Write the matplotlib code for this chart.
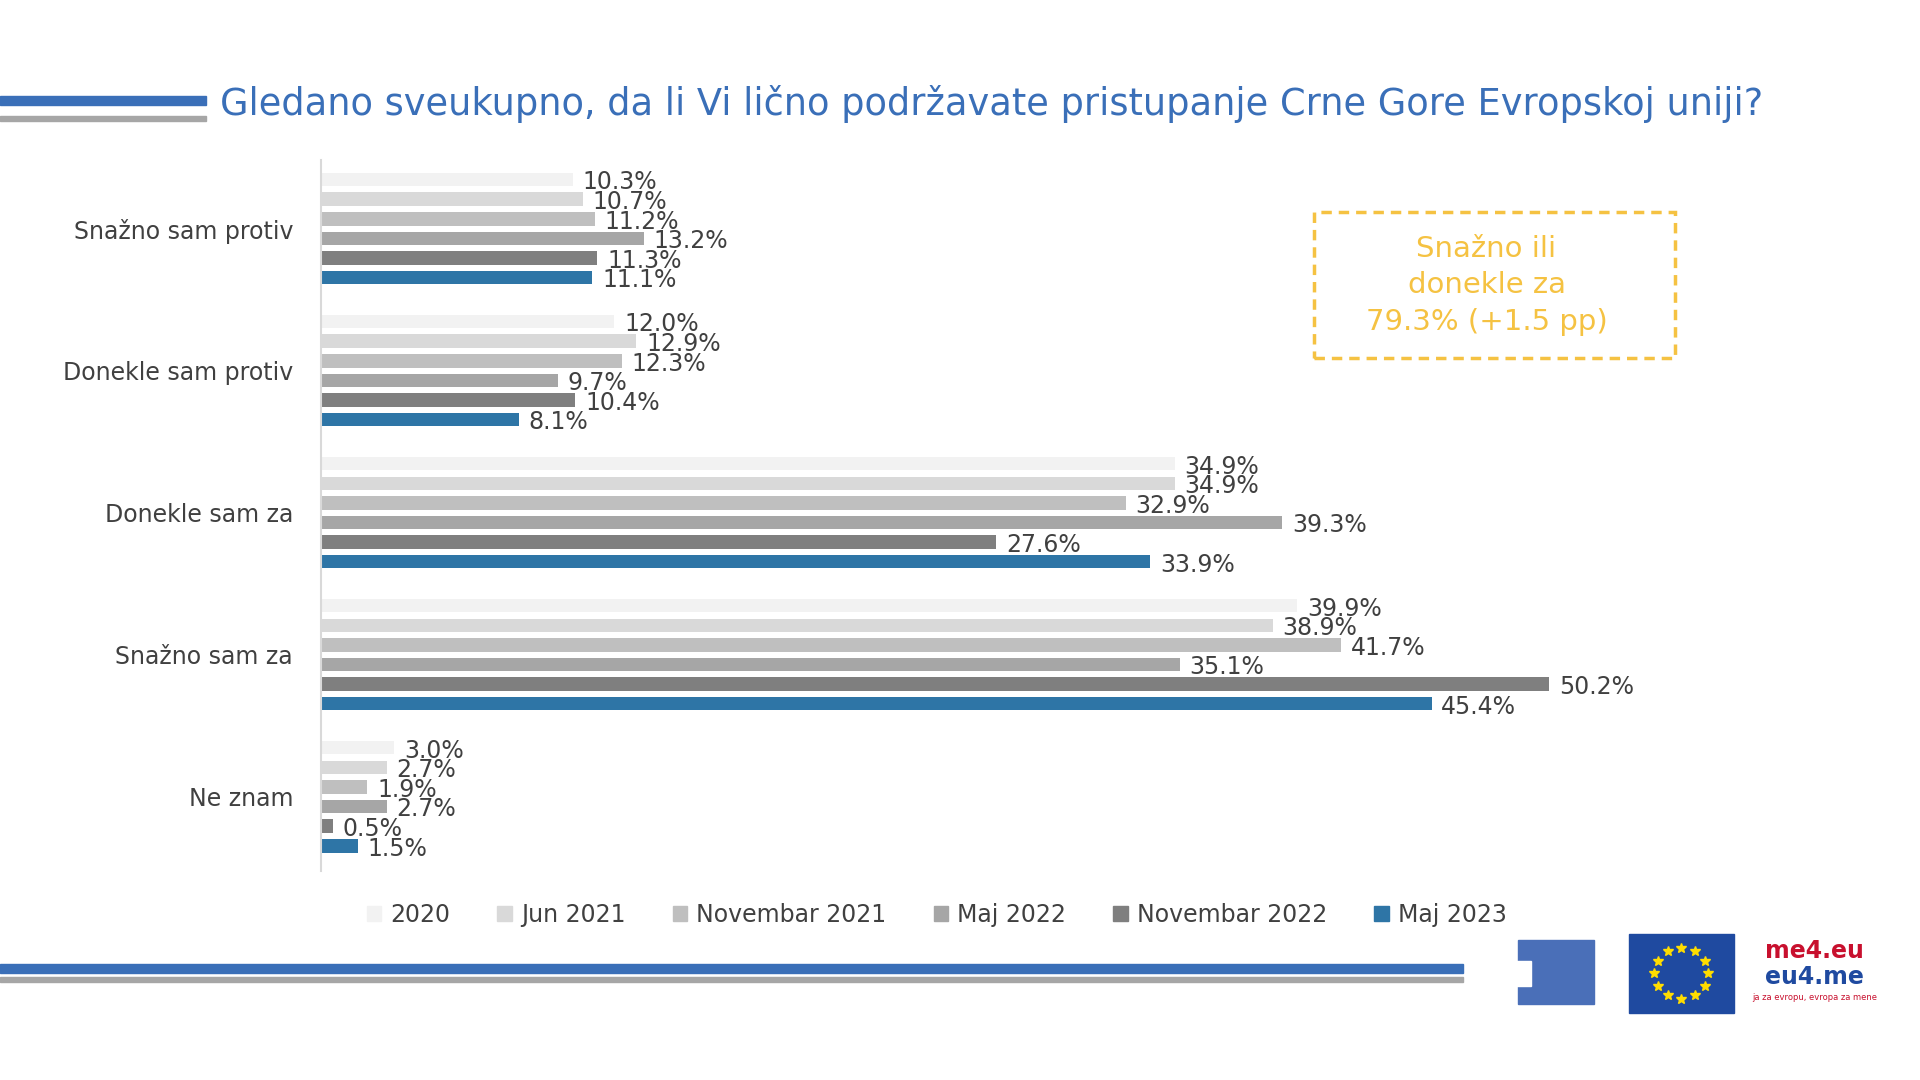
import matplotlib
matplotlib.use("Agg")
import matplotlib.pyplot as plt
import numpy as np
from matplotlib.patches import Rectangle

categories = ["Snažno sam protiv", "Donekle sam protiv", "Donekle sam za", "Snažno sam za", "Ne znam"]
series = ["2020", "Jun 2021", "Novembar 2021", "Maj 2022", "Novembar 2022", "Maj 2023"]
values = [
    [10.3, 12.0, 34.9, 39.9, 3.0],
    [10.7, 12.9, 34.9, 38.9, 2.7],
    [11.2, 12.3, 32.9, 41.7, 1.9],
    [13.2, 9.7, 39.3, 35.1, 2.7],
    [11.3, 10.4, 27.6, 50.2, 0.5],
    [11.1, 8.1, 33.9, 45.4, 1.5],
]
colors = ["#f2f2f2", "#d9d9d9", "#bfbfbf", "#a6a6a6", "#7f7f7f", "#2e75a6"]

W, H = 1568, 882
fig = plt.figure(figsize=(19.2, 10.8), dpi=100)
def fx(x): return x / W
def fy(y): return 1 - y / H

xmax = 60
ax = fig.add_axes([fx(262), fy(711), (1003 / 50.2 * xmax) / W, (711 - 131) / H])
step, bh = 0.138, 0.095
for s in range(6):
    for c in range(5):
        y = c + (s - 2.5) * step
        ax.barh(y, values[s][c], height=bh, color=colors[s])
        ax.text(values[s][c] + 0.4, y + 0.02, f"{values[s][c]:.1f}%", va="center", ha="left",
                fontsize=17, color="#404040")
ax.set_xlim(0, xmax)
ax.set_ylim(4.52, -0.48)
ax.set_yticks(range(5))
ax.set_yticklabels(categories, fontsize=17, color="#404040")
ax.tick_params(axis="y", length=0, pad=20)
ax.set_xticks([])
for sp in ["top", "right", "bottom"]:
    ax.spines[sp].set_visible(False)
ax.spines["left"].set_color("#d9d9d9")
ax.spines["left"].set_linewidth(1.5)

# title and decorations
fig.text(fx(180), fy(85), "Gledano sveukupno, da li Vi lično podržavate pristupanje Crne Gore Evropskoj uniji?",
         fontsize=26.5, color="#3a6fb8", va="center", ha="left")
fig.add_artist(Rectangle((fx(0), fy(86)), fx(168), 8 / H, color="#3a6fb8", transform=fig.transFigure))
fig.add_artist(Rectangle((fx(0), fy(99)), fx(168), 4 / H, color="#a6a6a6", transform=fig.transFigure))
fig.add_artist(Rectangle((fx(0), fy(795)), fx(1195), 8 / H, color="#3a6fb8", transform=fig.transFigure))
fig.add_artist(Rectangle((fx(0), fy(802)), fx(1195), 4 / H, color="#a6a6a6", transform=fig.transFigure))

# dashed box
fig.add_artist(Rectangle((fx(1073), fy(292)), fx(295), (292 - 173) / H, fill=False,
                         edgecolor="#f5c242", linestyle=(0, (3, 2)), linewidth=2.5,
                         transform=fig.transFigure))
fig.text(fx(1214), fy(233), "Snažno ili\ndonekle za\n79.3% (+1.5 pp)", fontsize=21,
         color="#f5c242", ha="center", va="center", linespacing=1.4)

# legend
handles = [Rectangle((0, 0), 1, 1, color=c) for c in colors]
fig.legend(handles, series, loc="center", bbox_to_anchor=(fx(765), fy(747)), ncol=6,
           frameon=False, fontsize=17, handlelength=0.6, handleheight=0.6,
           columnspacing=2.0, handletextpad=0.4, labelcolor="#404040")

# logos (simple)
fig.add_artist(Rectangle((fx(1240), fy(820)), fx(62), 52 / H, color="#4a6fb8", transform=fig.transFigure))
fig.add_artist(Rectangle((fx(1225), fy(805)), fx(25), 20 / H, color="white", transform=fig.transFigure))
fig.add_artist(Rectangle((fx(1330), fy(827)), fx(86), 64 / H, color="#1f4aa0", transform=fig.transFigure))
ang = np.linspace(0, 2 * np.pi, 13)[:-1]
fig.lines.append(plt.Line2D(fx(1373) + 0.014 * np.cos(ang), fy(795) + 0.0235 * np.sin(ang), ls="none",
                            marker="*", color="#ffdd00", markersize=7, transform=fig.transFigure))
fig.text(fx(1482), fy(777), "me4.eu", fontsize=17, color="#c8102e", ha="center", va="center", weight="bold")
fig.text(fx(1482), fy(798), "eu4.me", fontsize=17, color="#1f4aa0", ha="center", va="center", weight="bold")
fig.text(fx(1482), fy(815), "ja za evropu, evropa za mene", fontsize=6, color="#c8102e", ha="center", va="center")

fig.savefig("out.png", dpi=100, facecolor="white")
